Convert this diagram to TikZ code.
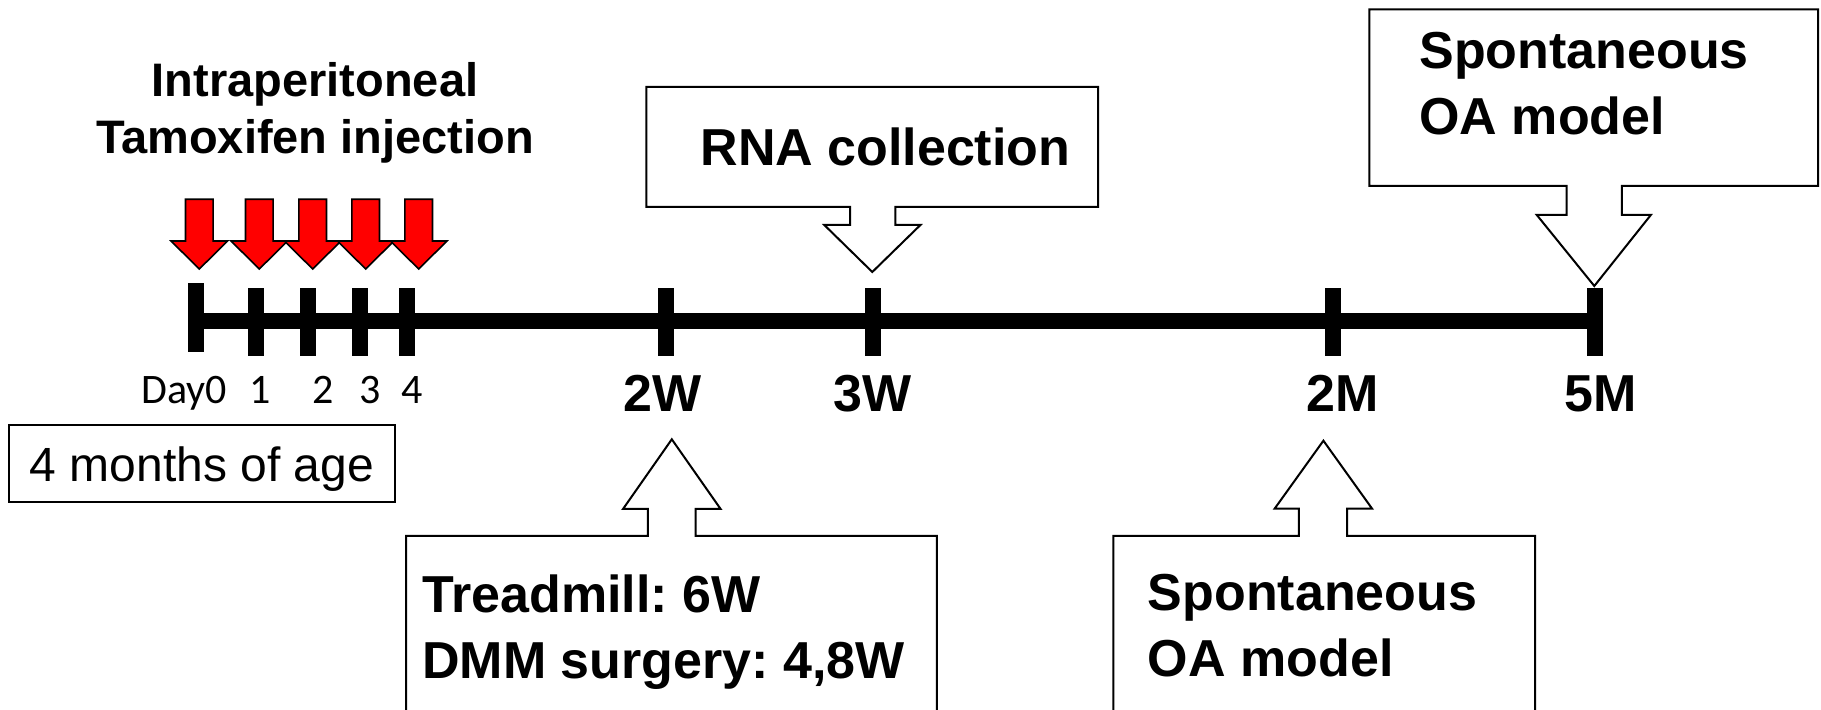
\documentclass[tikz,border=0pt]{standalone}
\usepackage{fontspec}
\setmainfont{Liberation Sans}
\newfontfamily\dayfont{Carlito}
\usetikzlibrary{calc}
\frenchspacing

\begin{document}
\begin{tikzpicture}[x=0.5pt,y=-0.5pt]
	\tikzstyle{tick} = [line width=8pt]
	\tikzstyle{inject} = [fill=red, draw=black, line width=0.8pt]
	\tikzstyle{callout} = [draw=black, line width=1pt]
	\tikzstyle{daylabel} = [anchor=base, inner sep=0pt, font=\dayfont\fontsize{21}{25}\selectfont]
	\tikzstyle{timelabel} = [anchor=base, inner sep=0pt, font=\bfseries\fontsize{26}{32}\selectfont]
	\tikzstyle{note} = [anchor=north west, align=left, inner sep=0pt, font=\bfseries\fontsize{26}{33}\selectfont]
	\useasboundingbox (0,0) rectangle (1821,710);
	\clip (0,0) rectangle (1821,710);

	\coordinate (D0) at (196.3,321.3);
	\coordinate (D1) at (256.3,321.3);
	\coordinate (D2) at (308,321.3);
	\coordinate (D3) at (360.3,321.3);
	\coordinate (D4) at (407,321.3);
	\coordinate (W2) at (665.7,321.3);
	\coordinate (W3) at (872.5,321.3);
	\coordinate (M2) at (1333,321.3);
	\coordinate (M5) at (1595,321.3);

	\draw[tick] (D0) -- (M5);
	\draw[tick] (D0) ++(0,-38) -- ++(0,68.4);
	\foreach \t in {D1,D2,D3,D4,W2,W3,M2,M5}
		\draw[tick] (\t) ++(0,-33) -- ++(0,68);

	\foreach \x in {199.3,259.3,312.7,365.7,418.7}
		\draw[inject] (\x-13.8,199.3) -- (\x+13.8,199.3) -- (\x+13.8,241) -- (\x+28.3,241)
			-- (\x,269) -- (\x-28.3,241) -- (\x-13.8,241) -- cycle;

	\node (title) [anchor=north, align=center, inner sep=0pt, font=\bfseries\fontsize{23.5}{28.5}\selectfont]
		at (315,62) {Intraperitoneal\\Tamoxifen injection};

	\node (lday0) [daylabel] at (184,403.3) {Day0};
	\node (lday1) [daylabel] at (260,403.3) {1};
	\node (lday2) [daylabel] at (323,403.3) {2};
	\node (lday3) [daylabel] at (370,403.3) {3};
	\node (lday4) [daylabel] at (411.7,403.3) {4};

	\node (age) [draw, line width=0.9pt, minimum width=193.3pt, minimum height=38.5pt,
		text height=18.5pt, text depth=0pt, inner sep=0pt, font=\fontsize{24}{29}\selectfont]
		at (202,463.5) {4 months of age};

	\node (l2w) [timelabel] at (662.5,412) {2W};
	\node (l3w) [timelabel] at (872.5,412) {3W};
	\node (l2m) [timelabel] at (1343,412) {2M};
	\node (l5m) [timelabel] at (1601,412) {5M};

	\draw[callout] (646.4,87) -- (1098.2,87) -- (1098.2,207) -- (895.4,207) -- (895.4,225)
		-- (920.4,225) -- (872.3,272) -- (824.3,225) -- (850,225) -- (850,207) -- (646.4,207) -- cycle;
	\node (rna) [timelabel] at (885.4,166) {RNA collection};

	\draw[callout] (1369.3,9.3) -- (1818,9.3) -- (1818,186) -- (1621.8,186) -- (1621.8,215)
		-- (1650.8,215) -- (1594.3,286) -- (1536.8,215) -- (1566.5,215) -- (1566.5,186) -- (1369.3,186) -- cycle;
	\node (oatop) [note] at (1419,32) {Spontaneous\\OA model};

	\draw[callout] (406,730) -- (406,536) -- (647.9,536) -- (647.9,509) -- (623,509) -- (671.8,439.3)
		-- (720.6,509) -- (695.7,509) -- (695.7,536) -- (936.8,536) -- (936.8,730);
	\node (dmm) [note] at (422,574.5) {Treadmill: 6W\\DMM surgery: 4,8W};

	\draw[callout] (1113.3,730) -- (1113.3,536) -- (1298.9,536) -- (1298.9,508.7) -- (1274.6,508.7)
		-- (1323.4,440.7) -- (1372.1,508.7) -- (1347.1,508.7) -- (1347.1,536) -- (1535,536) -- (1535,730);
	\node (oabot) [note] at (1147.5,573.8) {Spontaneous\\OA model};
\end{tikzpicture}
\end{document}
